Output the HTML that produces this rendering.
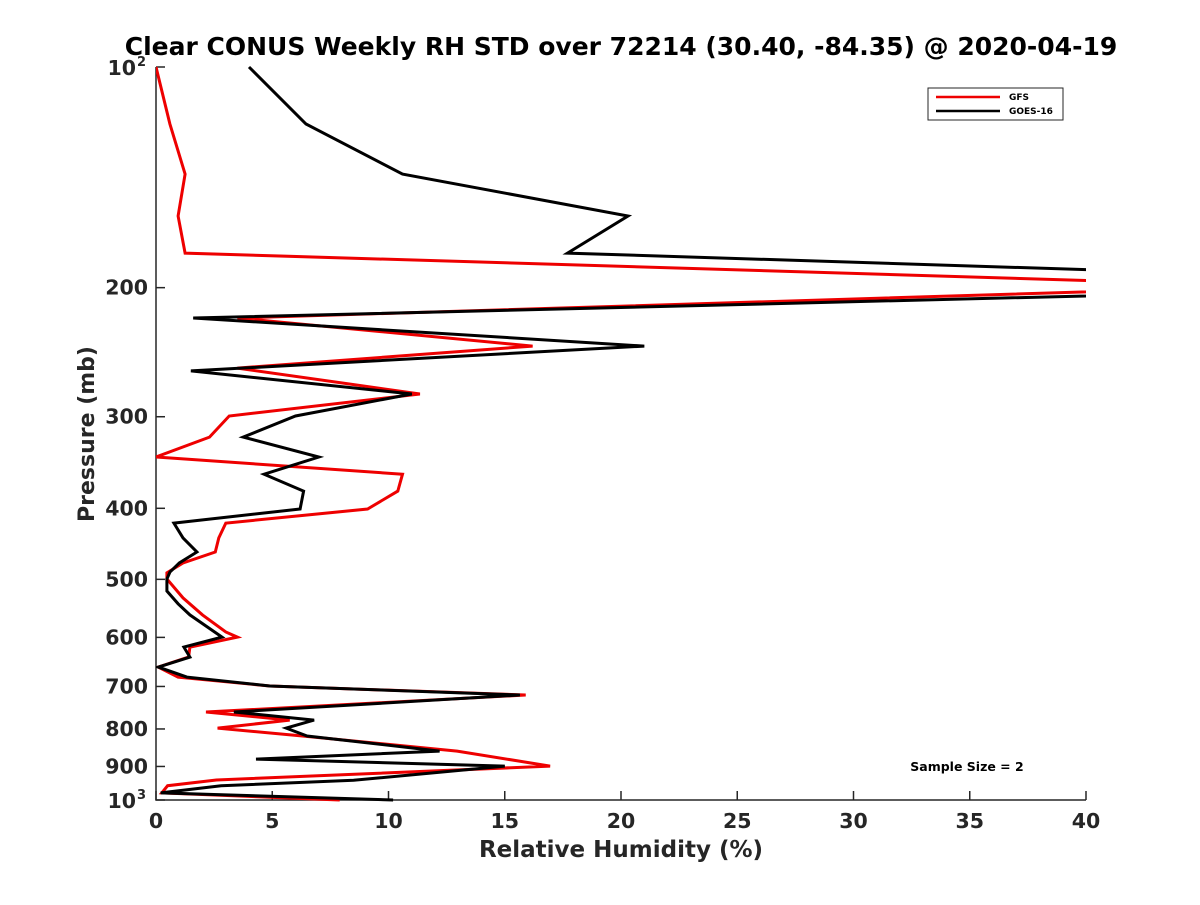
<!DOCTYPE html>
<html><head><meta charset="utf-8"><style>
body{margin:0;background:#fff;}
svg text{font-family:"DejaVu Sans","Liberation Sans",sans-serif;font-weight:bold;fill:#262626;}
</style></head><body>
<svg id="chart" width="1200" height="900" viewBox="0 0 1200 900" xmlns="http://www.w3.org/2000/svg">
<defs><clipPath id="clip"><rect x="156" y="60" width="930" height="745"/></clipPath></defs>
<text x="621" y="55" text-anchor="middle" font-size="25" style="fill:#000">Clear CONUS Weekly RH STD over 72214 (30.40, -84.35) @ 2020-04-19</text>
<g id="axes"></g>
<g id="series" clip-path="url(#clip)"></g>
<text transform="translate(94,434) rotate(-90)" text-anchor="middle" font-size="22">Pressure (mb)</text>
<text x="621" y="857" text-anchor="middle" font-size="23">Relative Humidity (%)</text>
<g>
<rect x="928" y="88" width="135" height="32" fill="#fff" stroke="#262626" stroke-width="1"/>
<g><line x1="936" y1="97" x2="1000" y2="97" stroke="#e00" stroke-width="2.5"/><text x="1009" y="100" font-size="9" style="fill:#000">GFS</text></g>
<g><line x1="936" y1="111" x2="1000" y2="111" stroke="#000" stroke-width="2.5"/><text x="1009" y="114" font-size="9" style="fill:#000">GOES-16</text></g>
</g>
<text x="967" y="771" text-anchor="middle" font-size="12.5" style="fill:#000">Sample Size = 2</text>
</svg>
<script>
const xTicks=[0,5,10,15,20,25,30,35,40];
const yTickLabels=[200,300,400,500,600,700,800,900];
const gfsPressure=[100,119.6,140,159.7,179.4,199,220,240.3,257.5,279.3,299.3,319.8,340.5,359.3,378.9,400.9,419,439,458.8,475,490,499.4,530,559,590,599.4,618.6,638.3,658.7,679.7,699,719,758.6,778,797.9,818,857.6,898.9,939,956,978,1000];
const gfsRH=[0,0.6,1.25,0.95,1.25,48,3.5,16.2,3.5,11.35,3.15,2.3,0,10.6,10.4,9.1,3.0,2.7,2.55,1.16,0.47,0.47,1.16,2.0,3.0,3.5,1.46,1.4,0.1,0.95,4.9,15.9,2.15,5.75,2.65,6.3,12.95,16.95,2.6,0.5,0.25,7.9];
const goesPressure=[100,119.6,140,159.7,179.4,198,220,240.3,259.8,279.3,299.3,319.8,340.5,359.3,378.9,400.9,419,439,458.8,475,488.7,499.4,518.6,540,559,599.4,618.6,638.3,658.7,679.7,699,719,758.6,778,797.9,818,857.6,879.5,898.9,940,956,978,1000];
const goesRH=[4.0,6.45,10.6,20.3,17.7,60,1.6,21.0,1.5,11.0,6.0,3.75,7.0,4.65,6.35,6.2,0.77,1.16,1.76,1.0,0.6,0.47,0.47,0.95,1.46,2.84,1.2,1.46,0.1,1.33,4.9,15.65,3.35,6.8,5.6,6.5,12.2,4.3,15.0,8.5,2.8,0.2,10.2];
const X0=156,X1=1086,Y0=67,Y1=800;
const xs=v=>X0+(v/40)*(X1-X0);
const ys=p=>Y0+(Math.log10(p)-2)*(Y1-Y0);
const NS='http://www.w3.org/2000/svg';
function mk(tag,attrs,parent){const e=document.createElementNS(NS,tag);for(const k in attrs)e.setAttribute(k,attrs[k]);parent.appendChild(e);return e;}
const axes=document.getElementById('axes');
const ax=mk('path',{d:`M${X0},${Y0}V${Y1}H${X1}`,fill:'none',stroke:'#262626','stroke-width':1.5},axes);


xTicks.forEach(t=>{
  const x=xs(t);
  const l=mk('line',{x1:x,y1:Y1,x2:x,y2:Y1-9,stroke:'#262626','stroke-width':1.5},axes);
  
  
  const tx=mk('text',{x:x,y:828,'text-anchor':'middle','font-size':20.5},axes);
  tx.textContent=t;
  
  
});
[100,1000].concat(yTickLabels).forEach(p=>{
  const y=ys(p);
  const l=mk('line',{x1:X0,y1:y,x2:X0+9,y2:y,stroke:'#262626','stroke-width':1.5},axes);
  
  
});
yTickLabels.forEach(p=>{
  const tx=mk('text',{x:148,y:ys(p)+7,'text-anchor':'end','font-size':20.5},axes);
  tx.textContent=p;
  
  
});
[[100,'2'],[1000,'3']].forEach(([p,e])=>{
  const tx=mk('text',{x:136,y:ys(p)+8,'text-anchor':'end','font-size':20.5},axes);
  tx.textContent='10';
  
  
  const s=mk('text',{x:137,y:ys(p)-1,'font-size':13},axes);
  s.textContent=e;
  
  
});
const ser=document.getElementById('series');
function line(P,R,color,name){
  const d=P.map((p,i)=>(i?'L':'M')+xs(R[i]).toFixed(1)+','+ys(p).toFixed(1)).join('');
  const e=mk('path',{d:d,fill:'none',stroke:color,'stroke-width':3,'stroke-linejoin':'miter'},ser);
  
  
}
line(gfsPressure,gfsRH,'#e00','gfs-line');
line(goesPressure,goesRH,'#000','goes16-line');
</script>
</body></html>
